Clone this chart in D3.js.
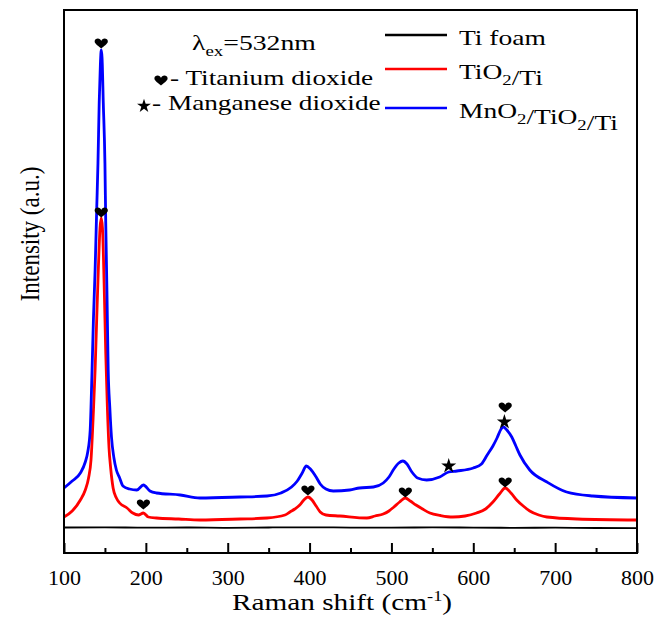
<!DOCTYPE html>
<html>
<head>
<meta charset="utf-8">
<script src="https://cdn.jsdelivr.net/npm/d3@7"></script>
<style>
  body { margin: 0; background: #fff; }
  svg { display: block; }
  text { font-family: "Liberation Serif", "Tinos", "DejaVu Serif", "Noto Serif", serif; fill: #000; }
</style>
</head>
<body>
<div class="graph"></div>
<script>
// Raman shift (cm-1) and intensity (a.u.)
const blueX = [100, 110, 120, 126, 129, 132, 134, 136, 138, 140, 141.5, 143, 144.5, 145.5, 146.5, 148, 150, 151, 152.5, 154, 156, 158, 161, 164, 168, 172, 180, 189, 197, 205, 213, 242, 266, 315, 348, 365, 378, 385, 391, 396, 401, 408, 413, 420, 429, 449, 461, 478, 490, 497, 503, 509, 514, 519, 525, 532, 543, 559, 570, 580, 600, 610, 617, 624, 629, 634, 637, 641, 647, 652, 657, 669, 690, 714, 746, 800];
const blueY = [650, 720, 800, 910, 1010, 1230, 1750, 2350, 2830, 3450, 3900, 4500, 4900, 5030, 4950, 4500, 3900, 3300, 2600, 1830, 1450, 1160, 950, 830, 750, 670, 640, 630, 680, 620, 600, 580, 550, 560, 570, 600, 660, 720, 800, 870, 840, 760, 690, 640, 620, 630, 650, 660, 700, 760, 840, 900, 920, 890, 810, 750, 730, 760, 810, 820, 850, 890, 980, 1070, 1150, 1240, 1260, 1230, 1160, 1070, 980, 830, 710, 610, 570, 550];

const redX = [100, 110, 120, 126, 130, 133, 136, 138, 140, 142, 144, 145.5, 147, 149, 151, 153, 155, 157, 160, 164, 168, 177, 184, 191, 197, 203, 213, 240, 266, 315, 348, 370, 376, 382, 388, 393, 398, 403, 408, 413, 420, 437, 470, 480, 490, 497, 503, 510, 517, 523, 530, 538, 547, 560, 575, 590, 604, 615, 624, 632, 639, 646, 653, 661, 669, 680, 690, 727, 800];
const redY = [360, 420, 530, 630, 750, 930, 1430, 1830, 2350, 2850, 3250, 3350, 3250, 2700, 2000, 1450, 1050, 850, 650, 550, 500, 450, 400, 380, 400, 360, 350, 340, 330, 340, 350, 380, 410, 440, 480, 530, 560, 530, 470, 410, 380, 370, 350, 370, 390, 420, 460, 510, 550, 520, 480, 440, 400, 375, 360, 370, 400, 440, 510, 590, 650, 600, 530, 470, 420, 380, 360, 340, 330];

const blackX = [100, 150, 200, 250, 300, 350, 400, 450, 500, 550, 600, 650, 700, 750, 800];
const blackY = [255, 257, 253, 255, 252, 255, 257, 254, 253, 256, 254, 252, 253, 250, 248];

const heartX = [145.5, 145.5, 197, 398, 517, 639, 639];
const heartY = [5090, 3400, 480, 620, 600, 700, 1450];
const starX = [570, 638];
const starY = [870, 1310];

const xTicks = [100, 200, 300, 400, 500, 600, 700, 800];
const xMinor = [150, 250, 350, 450, 550, 650, 750];

const series = [
  { name: 'Ti foam', x: blackX, y: blackY, color: '#000000', width: 1.8 },
  { name: 'TiO2/Ti', x: redX, y: redY, color: '#ff0000', width: 2.8 },
  { name: 'MnO2/TiO2/Ti', x: blueX, y: blueY, color: '#0000ff', width: 2.8 }
];

const svgDim = { w: 656, h: 617, left: 64, right: 637, top: 10, bottom: 553 };

const svg = d3.select('.graph').append('svg')
  .attr('width', svgDim.w).attr('height', svgDim.h);

const xScale = d3.scaleLinear().domain([100, 800]).range([svgDim.left, svgDim.right]);
const yScale = d3.scaleLinear().domain([0, 5430]).range([svgDim.bottom, svgDim.top]);

const line = d3.line()
  .x(d => xScale(d[0]))
  .y(d => yScale(d[1]))
  .curve(d3.curveMonotoneX);

series.forEach(s => {
  svg.append('path')
    .datum(s.x.map((v, i) => [v, s.y[i]]))
    .attr('d', line)
    .attr('fill', 'none')
    .attr('stroke', s.color)
    .attr('stroke-width', s.width)
    .attr('stroke-linejoin', 'round');
});

// heart glyph, centred on 0,0, about 13 x 10 px
const heart = 'M0,4.6C-2,2.6 -6.6,0 -6.6,-2.4C-6.6,-4.6 -5,-5.4 -3.4,-5.4C-1.8,-5.4 -0.4,-4.4 0,-3C0.4,-4.4 1.8,-5.4 3.4,-5.4C5,-5.4 6.6,-4.6 6.6,-2.4C6.6,0 2,2.6 0,4.6Z';

// peak markers
svg.append('g').selectAll('path')
  .data(heartX.map((v, i) => [v, heartY[i]]))
  .join('path')
  .attr('transform', d => `translate(${xScale(d[0])},${yScale(d[1])})`)
  .attr('d', heart);

svg.append('g').selectAll('path')
  .data(starX.map((v, i) => [v, starY[i]]))
  .join('path')
  .attr('transform', d => `translate(${xScale(d[0])},${yScale(d[1])})`)
  .attr('d', d3.symbol(d3.symbolStar, 70));

// frame
svg.append('rect')
  .attr('x', svgDim.left).attr('y', svgDim.top)
  .attr('width', svgDim.right - svgDim.left).attr('height', svgDim.bottom - svgDim.top)
  .attr('fill', 'none').attr('stroke', '#000').attr('stroke-width', 2);

const xAxis = d3.axisBottom(xScale).tickValues(xTicks).tickSize(-10).tickPadding(16).tickFormat(d3.format('d'));
const gx = svg.append('g').attr('transform', `translate(0,${svgDim.bottom})`).call(xAxis);
gx.attr('font-family', null).attr('font-size', null);
gx.select('.domain').remove();
gx.selectAll('line').attr('stroke-width', 2);
gx.selectAll('text').style('font-size', '22px').attr('fill', '#000');

const xAxisMinor = d3.axisBottom(xScale).tickValues(xMinor).tickSize(-5).tickFormat('');
const gm = svg.append('g').attr('transform', `translate(0,${svgDim.bottom})`).call(xAxisMinor);
gm.select('.domain').remove();
gm.selectAll('line').attr('stroke-width', 2);

// axis titles
const xt = svg.append('g').attr('transform', 'translate(342,610) scale(1.22,1)')
  .append('text').attr('text-anchor', 'middle').style('font-size', '24px');
xt.append('tspan').text('Raman shift (cm');
xt.append('tspan').attr('dy', -9).style('font-size', '15px').text('-1');
xt.append('tspan').attr('dy', 9).text(')');

svg.append('g').attr('transform', 'translate(39,234) scale(1.2,1) rotate(-90)')
  .append('text').attr('text-anchor', 'middle').style('font-size', '23px')
  .text('Intensity (a.u.)');

// annotation
const lam = svg.append('g').attr('transform', 'translate(192,50) scale(1.26,1)')
  .append('text').style('font-size', '22px');
lam.append('tspan').text('\u03bb');
lam.append('tspan').attr('dy', 6).style('font-size', '15px').text('ex');
lam.append('tspan').attr('dy', -6).text('=532nm');

svg.append('path').attr('transform', 'translate(161,81)').attr('d', heart);
svg.append('g').attr('transform', 'translate(170,85) scale(1.24,1)')
  .append('text').style('font-size', '22px').text('- Titanium dioxide');

svg.append('path').attr('transform', 'translate(144,106)').attr('d', d3.symbol(d3.symbolStar, 60));
svg.append('g').attr('transform', 'translate(152,110) scale(1.24,1)')
  .append('text').style('font-size', '22px').text('- Manganese dioxide');

// legend
const legendY = [35, 69, 108];
const legend = svg.append('g');
series.forEach((s, i) => {
  legend.append('line')
    .attr('x1', 385).attr('x2', 447)
    .attr('y1', legendY[i]).attr('y2', legendY[i])
    .attr('stroke', s.color).attr('stroke-width', 2.4);
  const t = legend.append('g').attr('transform', `translate(459,${legendY[i] + 10}) scale(1.25,1)`)
    .append('text').style('font-size', '22px');
  // the "2" goes down as a subscript
  s.name.split(/(2)/).forEach(part => {
    if (part === '2') {
      t.append('tspan').attr('dy', 6).style('font-size', '15px').text('2');
      t.append('tspan').attr('dy', -6).text('');
    } else if (part) {
      t.append('tspan').text(part);
    }
  });
});
</script>
</body>
</html>
